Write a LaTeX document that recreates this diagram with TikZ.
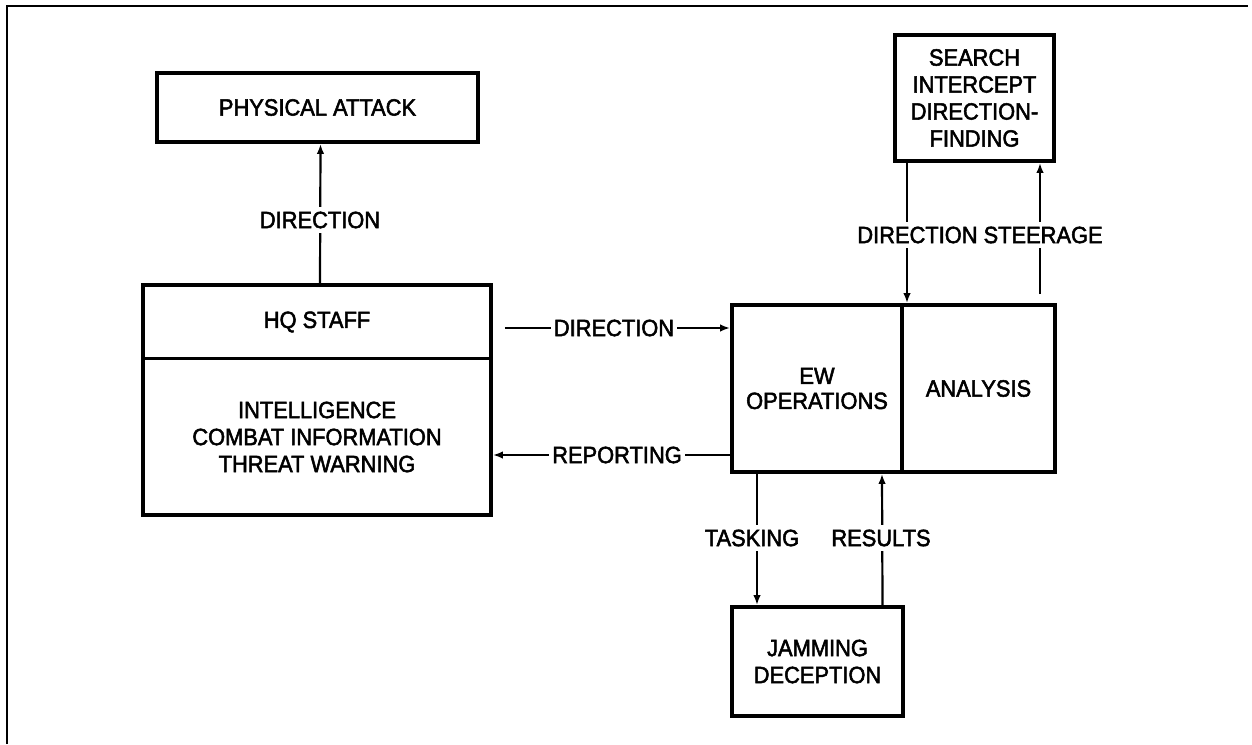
\documentclass[tikz,border=0pt]{standalone}
\usepackage{fontspec}
\setmainfont{Liberation Sans}[FakeStretch=0.93,FakeBold=2.2]
\usetikzlibrary{arrows.meta}
\newcommand\lblfont{\fontsize{23.5}{27}\selectfont}
\begin{document}
\begin{tikzpicture}[x=1pt,y=-1pt,
  box/.style={draw, line width=3.8pt, inner sep=0pt, align=center, font=\lblfont},
  lbl/.style={font=\lblfont, inner xsep=3pt, inner ysep=5pt, fill=white, align=center},
  txt/.style={font=\lblfont, inner sep=0pt, align=center},
  conn/.style={line width=2.2pt, -{Latex[length=10pt,width=7.5pt]}},
  frame/.style={line width=1.8pt}]
\useasboundingbox (0,0) rectangle (1252,744);
\draw[frame] (7,744) -- (7,6) -- (1248,6);

% boxes
\node[box, minimum width=321pt, minimum height=69pt] (pa) at (317.5,107.5) {PHYSICAL ATTACK};
\node[box, minimum width=348pt, minimum height=230pt] (hq) at (317,400) {};
\draw[line width=3.2pt] ([yshift=-75pt]hq.north west) -- ([yshift=-75pt]hq.north east);
\node[txt] (hqstaff) at (317,322) {HQ STAFF};
\node[txt] (intel) at (317,437) {INTELLIGENCE\\COMBAT INFORMATION\\THREAT WARNING};
\node[box, minimum width=170pt, minimum height=167pt] (ewops) at (817,388.5) {EW\\[-2pt]OPERATIONS};
\node[box, minimum width=153pt, minimum height=167pt] (analysis) at (978.5,388.5) {ANALYSIS};
\node[box, minimum width=159pt, minimum height=126pt] (search) at (974.5,98) {SEARCH\\INTERCEPT\\DIRECTION-\\FINDING};
\node[box, minimum width=171pt, minimum height=109pt] (jam) at (817.5,661.5) {JAMMING\\DECEPTION};

% connectors
\draw[conn] ([xshift=3pt]hq.north) -- ([xshift=3pt]pa.south);
\draw[conn] ([xshift=12pt,yshift=72pt]hq.east) -- ([yshift=60.5pt]ewops.west);
\draw[conn] ([yshift=-66.5pt]ewops.west) -- ([yshift=-55pt]hq.east);
\draw[conn] ([xshift=-67.5pt]search.south) -- ([xshift=-71.5pt]analysis.north);
\draw[conn, shorten <=9pt] ([xshift=61.5pt]analysis.north) -- ([xshift=65.5pt]search.south);
\draw[conn] ([xshift=-60pt]ewops.south) -- ([xshift=-60.5pt]jam.north);
\draw[conn] ([xshift=65pt]jam.north) -- ([xshift=65pt]ewops.south);

% connector labels
\node[lbl] (l1) at (320,220) {DIRECTION};
\node[lbl] (l2) at (614,328) {DIRECTION};
\node[lbl] (l3) at (617,455) {REPORTING};
\node[lbl] (l4) at (980,235) {DIRECTION STEERAGE};
\node[lbl] (l5) at (752,538) {TASKING};
\node[lbl] (l6) at (881,538) {RESULTS};
\end{tikzpicture}
\end{document}
